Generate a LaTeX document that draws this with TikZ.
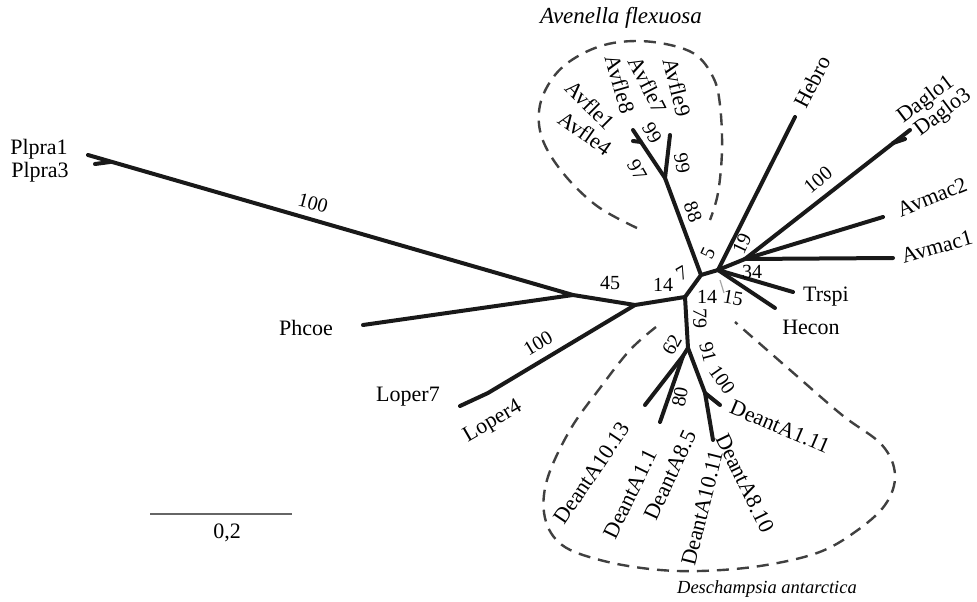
\documentclass[tikz,border=0pt]{standalone}
\usepackage{fontspec}
\setmainfont{Liberation Serif}
\begin{document}
\begin{tikzpicture}[x=1pt,y=-1pt,
  br/.style={line width=4pt, line cap=round, line join=round, draw=black!90},
  faint/.style={line width=1.2pt, draw=black!35},
  hull/.style={line width=2.4pt, draw=black!75, dash pattern=on 12pt off 8pt},
  taxon/.style={inner sep=0pt, font=\fontsize{22}{22}\selectfont},
  boot/.style={inner sep=0pt, font=\fontsize{20}{20}\selectfont},
  clade/.style={inner sep=0pt, font=\fontsize{21}{21}\selectfont\itshape}]
\useasboundingbox (0,0) rectangle (977,602);

% internal nodes of the unrooted tree
\coordinate (A) at (573,295);
\coordinate (B) at (635,305);
\coordinate (C) at (685,297);
\coordinate (D) at (701,275);
\coordinate (E) at (718,270);
\coordinate (G) at (745,259);
\coordinate (F) at (665,178);
\coordinate (H) at (688,348);
\coordinate (I) at (683,356);
\coordinate (J) at (705,393);
\coordinate (K) at (488,393);
% tips
\coordinate (tPl) at (88,155);
\coordinate (tPlf) at (110,162);
\coordinate (tPl3) at (95,164);
\coordinate (tPh) at (363,325);
\coordinate (tLo) at (460,406);
\coordinate (tAv9) at (670,135);
\coordinate (tAv1) at (633,130);
\coordinate (tAvf) at (641,142);
\coordinate (tAv4) at (633,141);
\coordinate (tHe) at (795,117);
\coordinate (tDa) at (910,130);
\coordinate (tDaf) at (893,143);
\coordinate (tDa3) at (905,139);
\coordinate (tAm2) at (883,217);
\coordinate (tAm1) at (893,258);
\coordinate (tTr) at (793,292);
\coordinate (tHc) at (775,308);
\coordinate (tX1) at (720,280);
\coordinate (tX2) at (724,293);
\coordinate (tD1013) at (645,405);
\coordinate (tD11) at (660,422);
\coordinate (tD1011) at (713,440);
\coordinate (tD111) at (720,405);

% clade outlines
\draw[hull] plot[smooth, tension=0.6] coordinates {(637,228) (597,206) (563,173) (542,138) (540,105) (555,75) (580,55) (613,43) (653,42) (693,53) (713,77) (720,105) (722,150) (718,193) (710,220)};
\draw[hull] plot[smooth, tension=0.6] coordinates {(656,327) (630,350) (600,388) (570,430) (547,480) (545,518) (562,545) (600,560) (650,569) (700,571) (760,566) (817,553) (855,532) (885,505) (895,475) (882,445) (842,415) (790,370) (735,322)};

% branches
\draw[br] (tPl) -- (A) -- (tPh);
\draw[br] (tPlf) -- (tPl3);
\draw[br] (A) -- (B) -- (C) -- (D) -- (E) -- (G);
\draw[br] (B) -- (K) -- (tLo);
\draw[br] (D) -- (F) -- (tAv9);
\draw[br] (F) -- (tAv1);
\draw[br] (tAvf) -- (tAv4);
\draw[br] (E) -- (tHe);
\draw[br] (E) -- (tTr);
\draw[br] (E) -- (tHc);
\draw[faint] (tX1) -- (tX2);
\draw[br] (G) -- (tDa);
\draw[br] (tDaf) -- (tDa3);
\draw[br] (G) -- (tAm2);
\draw[br] (G) -- (tAm1);
\draw[br] (C) -- (H) -- (I) -- (tD1013);
\draw[br] (I) -- (tD11);
\draw[br] (H) -- (J) -- (tD1011);
\draw[br] (J) -- (tD111);

% taxon names
\node[taxon] (nPl1) at (39,149) {Plpra1};
\node[taxon] (nPl3) at (40,172) {Plpra3};
\node[taxon] (nPh) at (306,328) {Phcoe};
\node[taxon] (nLo7) at (408,397) {Loper7};
\node[taxon, rotate=30] (nLo4) at (493,422) {Loper4};
\node[taxon, rotate=63] (nHe) at (812,82) {Hebro};
\node[taxon, rotate=37] (nDa1) at (926,100) {Daglo1};
\node[taxon, rotate=37] (nDa3) at (943,113) {Daglo3};
\node[taxon, rotate=22] (nAm2) at (932,197) {Avmac2};
\node[taxon, rotate=16] (nAm1) at (937,247) {Avmac1};
\node[taxon] (nTr) at (826,297) {Trspi};
\node[taxon] (nHc) at (811,327) {Hecon};
\node[taxon, rotate=-45] (nAv1) at (590,105) {Avfle1};
\node[taxon, rotate=-35] (nAv4) at (585,133) {Avfle4};
\node[taxon, rotate=-74] (nAv8) at (620,84) {Avfle8};
\node[taxon, rotate=-63] (nAv7) at (648,85) {Avfle7};
\node[taxon, rotate=-76] (nAv9) at (677,87) {Avfle9};
\node[taxon, rotate=56] (nD1013) at (592,473) {DeantA10.13};
\node[taxon, rotate=64] (nD11) at (630,494) {DeantA1.1};
\node[taxon, rotate=65] (nD85) at (670,475) {DeantA8.5};
\node[taxon, rotate=76] (nD1011) at (702,508) {DeantA10.11};
\node[taxon, rotate=-64] (nD810) at (745,483) {DeantA8.10};
\node[taxon, rotate=-23] (nD111) at (780,427) {DeantA1.11};

% clade names
\node[clade, font=\fontsize{23}{23}\selectfont\itshape] (cAv) at (621,18) {Avenella flexuosa};
\node[clade, font=\fontsize{18.5}{18.5}\selectfont\itshape] (cDe) at (767,589) {Deschampsia antarctica};

% bootstrap support
\node[boot, rotate=-15] (s1) at (313,203) {100};
\node[boot] (s2) at (610,283) {45};
\node[boot] (s3) at (663,285) {14};
\node[boot, rotate=30] (s4) at (682,273) {7};
\node[boot, rotate=65] (s5) at (708,253) {5};
\node[boot, rotate=65] (s6) at (742,244) {19};
\node[boot] (s7) at (752,272) {34};
\node[boot] (s8) at (707,297) {14};
\node[boot, rotate=-10] (s9) at (733,298) {15};
\node[boot, rotate=-90] (s10) at (700,318) {79};
\node[boot, rotate=60] (s11) at (672,345) {62};
\node[boot, rotate=-75] (s12) at (708,352) {91};
\node[boot, rotate=31] (s13) at (538,343) {100};
\node[boot, rotate=-55] (s14) at (722,380) {100};
\node[boot, rotate=80] (s15) at (680,397) {80};
\node[boot, rotate=-70] (s16) at (693,212) {88};
\node[boot, rotate=-60] (s17) at (637,170) {97};
\node[boot, rotate=-60] (s18) at (652,133) {99};
\node[boot, rotate=-80] (s19) at (682,163) {99};
\node[boot, rotate=40] (s20) at (818,180) {100};

% scale bar
\coordinate (sb1) at (150,514);
\coordinate (sb2) at (292,514);
\draw[line width=1.5pt, draw=black!60] (sb1) -- (sb2);
\node[boot, font=\fontsize{22}{22}\selectfont] (sbl) at (227,533) {0,2};
\end{tikzpicture}
\end{document}
